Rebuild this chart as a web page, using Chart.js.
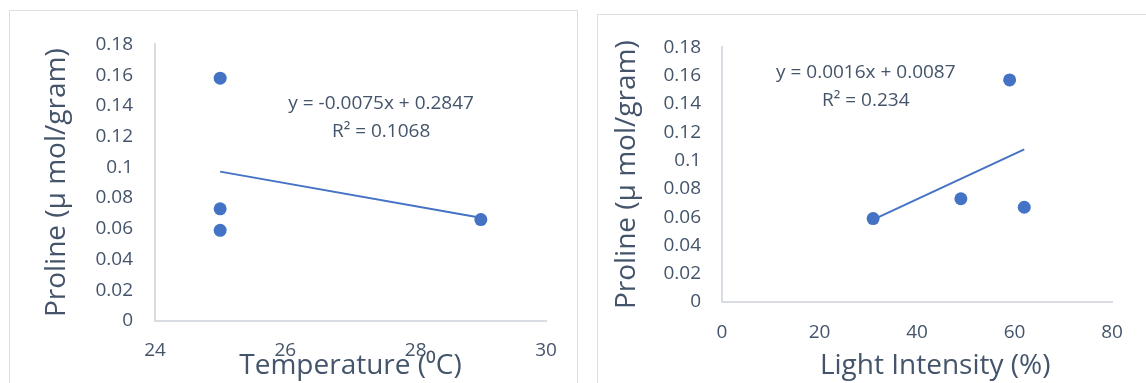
<!DOCTYPE html>
<html>
<head>
<meta charset="utf-8">
<script src="https://cdn.jsdelivr.net/npm/chart.js@4.4.1/dist/chart.umd.min.js"></script>
<style>
  html, body { margin: 0; padding: 0; background: #fff; overflow: hidden; width: 1146px; height: 383px; }
  .box { position: absolute; border: 1px solid #dcdfe4; background: #fff; overflow: hidden; }
  #boxTemp { left: 9px; top: 10px; width: 567px; height: 400px; }
  #boxLight { left: 597px; top: 14px; width: 600px; height: 400px; }
  canvas { display: block; }
</style>
</head>
<body>
<div class="box" id="boxTemp"><canvas id="chartTemp" width="567" height="372"></canvas></div>
<div class="box" id="boxLight"><canvas id="chartLight" width="548" height="368"></canvas></div>
<script>
// valores
const temperatura = [25, 25, 25, 29];
const prolinaTemp = [0.158, 0.073, 0.059, 0.066];
const luz = [31, 49, 59, 62];
const prolinaLuz = [0.059, 0.073, 0.157, 0.067];

// linhas de tendencia (coeficientes mostrados no grafico)
const tendTemp = [-0.0075, 0.2847];
const tendLuz = [0.0016, 0.0087];
const eqTemp = ['y = -0.0075x + 0.2847', 'R\u00B2 = 0.1068'];
const eqLuz = ['y = 0.0016x + 0.0087', 'R\u00B2 = 0.234'];

const yTicks = [0, 0.02, 0.04, 0.06, 0.08, 0.1, 0.12, 0.14, 0.16, 0.18];
const xTicksTemp = [24, 26, 28, 30];
const xTicksLuz = [0, 20, 40, 60, 80];

const azul = '#4472c4';
const corTexto = '#44546a';
const corEixo = '#d9dde3';
const fonte = '"Open Sans", "Noto Sans", sans-serif';

// texto da equacao da tendencia
const rotuloTendencia = {
    id: 'rotuloTendencia',
    afterDatasetsDraw(chart, args, opts) {
        const ctx = chart.ctx;
        const px = chart.scales.x.getPixelForValue(opts.at[0]);
        const py = chart.scales.y.getPixelForValue(opts.at[1]);
        ctx.save();
        ctx.font = '19px ' + fonte;
        ctx.fillStyle = corTexto;
        ctx.textAlign = 'center';
        ctx.textBaseline = 'middle';
        opts.lines.forEach((t, i) => ctx.fillText(t, px, py + i * 28));
        ctx.restore();
    }
};

function pontos(xs, ys) {
    return xs.map((v, i) => ({ x: v, y: ys[i] }));
}

function linhaTendencia(xs, coef) {
    const x0 = Math.min(...xs), x1 = Math.max(...xs);
    return [x0, x1].map(v => ({ x: v, y: coef[0] * v + coef[1] }));
}

function montaGrafico(id, cfg) {
    const ctx = document.getElementById(id).getContext('2d');
    return new Chart(ctx, {
        type: 'scatter',
        data: {
            datasets: [{
                data: pontos(cfg.xs, cfg.ys),
                backgroundColor: azul,
                borderColor: azul,
                borderWidth: 0,
                pointRadius: 6.5
            }, {
                type: 'line',
                data: linhaTendencia(cfg.xs, cfg.coef),
                borderColor: azul,
                borderWidth: 2,
                pointRadius: 0,
                fill: false
            }]
        },
        options: {
            responsive: false,
            animation: false,
            layout: { padding: { left: 0, top: cfg.top, right: cfg.right, bottom: 0 } },
            plugins: {
                legend: { display: false },
                tooltip: { enabled: false },
                rotuloTendencia: { lines: cfg.eq, at: cfg.eqAt }
            },
            scales: {
                x: {
                    type: 'linear',
                    min: cfg.xTicks[0],
                    max: cfg.xTicks[cfg.xTicks.length - 1],
                    afterBuildTicks: s => { s.ticks = cfg.xTicks.map(v => ({ value: v })); },
                    afterFit: s => { s.height = cfg.xH; },
                    grid: { display: false, drawTicks: false },
                    border: { display: true, color: corEixo, width: 2 },
                    ticks: { color: corTexto, font: { family: fonte, size: 19 }, padding: cfg.xPad, maxRotation: 0 },
                    title: {
                        display: true, text: cfg.xTitle, color: corTexto,
                        font: { family: fonte, size: 28, lineHeight: 1.2 },
                        padding: { top: 0, bottom: cfg.xTitlePad }
                    }
                },
                y: {
                    min: 0,
                    max: 0.18,
                    afterBuildTicks: s => { s.ticks = yTicks.map(v => ({ value: v })); },
                    afterFit: s => { s.width = cfg.yW; },
                    grid: { display: false, drawTicks: false },
                    border: { display: true, color: corEixo, width: 2 },
                    ticks: {
                        color: corTexto, font: { family: fonte, size: 19 }, padding: cfg.yPad,
                        callback: v => String(+v.toFixed(2))
                    },
                    title: {
                        display: true, text: 'Proline (\u00B5 mol/gram)', color: corTexto,
                        font: { family: fonte, size: 28, lineHeight: 1.2 },
                        padding: { top: cfg.yTitlePad, bottom: 0 }
                    }
                }
            }
        },
        plugins: [rotuloTendencia]
    });
}

montaGrafico('chartTemp', {
    xs: temperatura, ys: prolinaTemp, coef: tendTemp, eq: eqTemp, eqAt: [27.47, 0.1417],
    xTicks: xTicksTemp, xTitle: 'Temperature (\u2070C)',
    top: 28, right: 31, yW: 145, xH: 62, xPad: 18, yPad: 22, xTitlePad: 0, yTitlePad: 30
});

// titulo do eixo x fica um pouco deslocado para a direita no original
montaGrafico('chartLight', {
    xs: luz, ys: prolinaLuz, coef: tendLuz, eq: eqLuz, eqAt: [29.5, 0.162],
    xTicks: xTicksLuz, xTitle: '     Light Intensity (%)',
    top: 27, right: 34, yW: 124, xH: 81, xPad: 19, yPad: 21, xTitlePad: 0, yTitlePad: 12
});
</script>
</body>
</html>
